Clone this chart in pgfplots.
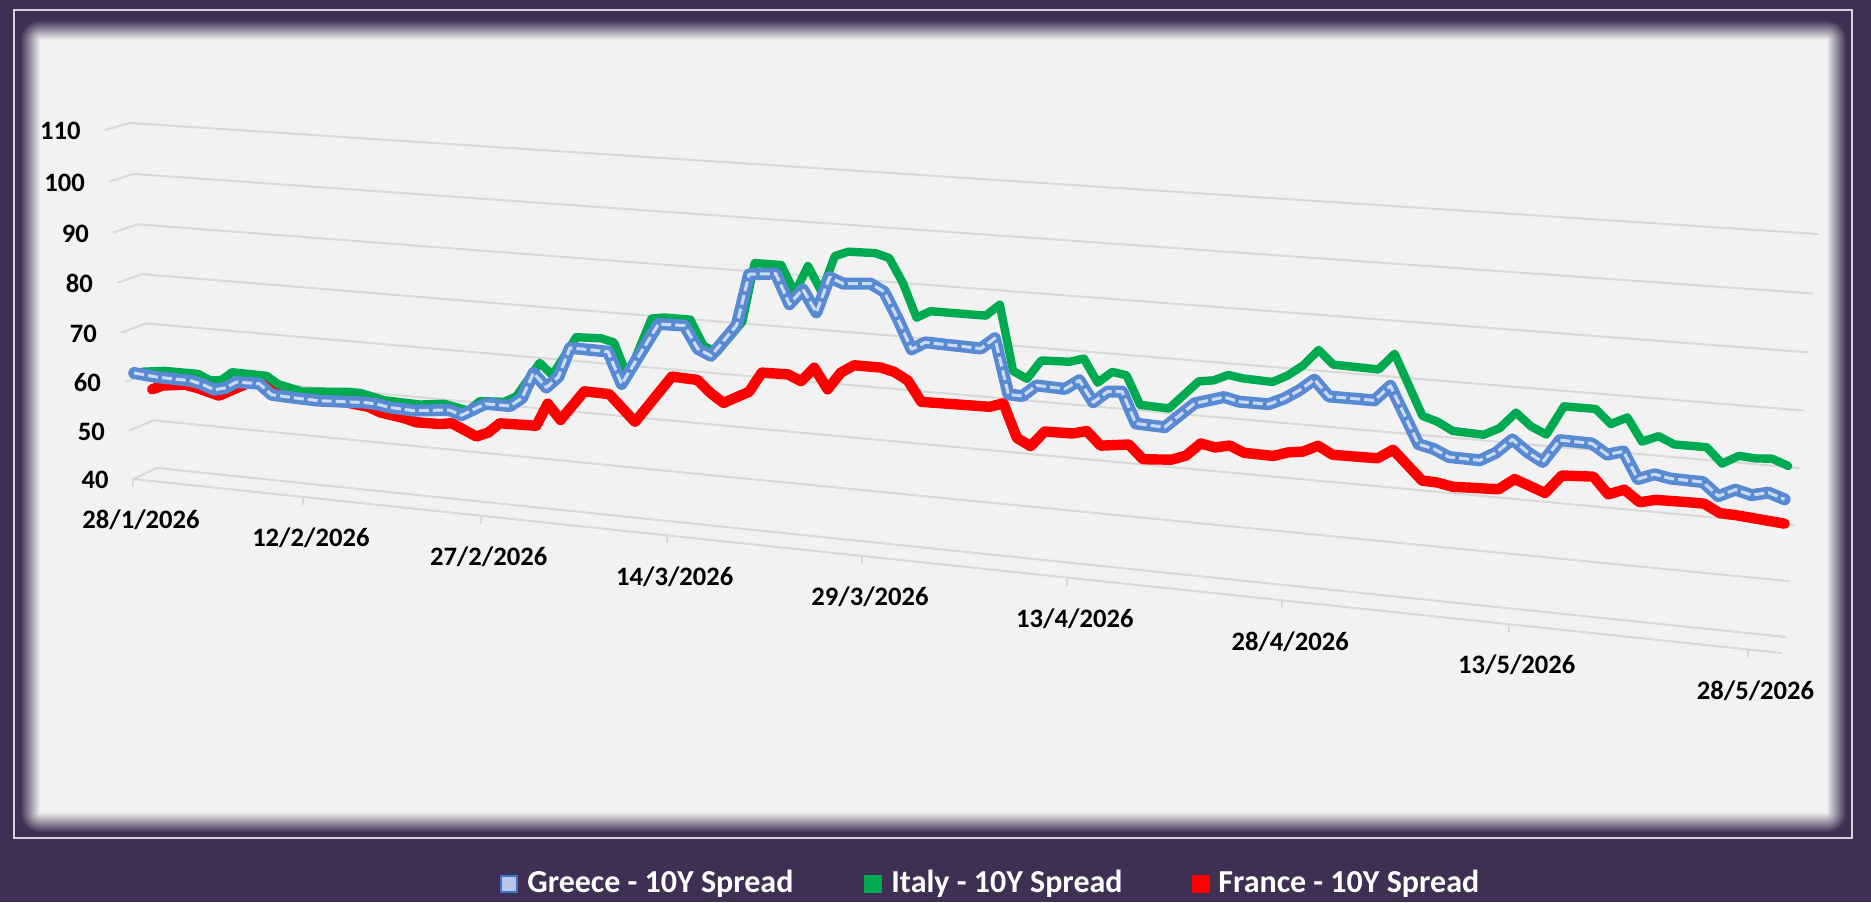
\documentclass[border=0pt]{standalone}
\usepackage{pgfplots}
\usepackage{pgfplotstable}
\pgfplotsset{compat=1.18}
\usepackage{fontspec}
\setmainfont{Carlito}

\definecolor{bgpurple}{RGB}{63,47,82}
\definecolor{panelgray}{RGB}{242,242,242}
\definecolor{framecol}{RGB}{215,210,222}
\definecolor{gridcol}{RGB}{217,217,217}
\definecolor{grblue}{RGB}{88,138,212}
\definecolor{grlight}{RGB}{205,218,240}
\definecolor{itgreen}{RGB}{0,170,80}
\definecolor{frred}{RGB}{255,0,0}
\definecolor{legblue}{RGB}{180,199,231}
\definecolor{legborder}{RGB}{68,114,196}

% d = days since 28/1/2026, v = spread (bp)
\pgfplotstableread{
d v
0 61.6
2 61.2
5 61.1
6 60.6
7 59.7
8 60.3
9 61.7
11 61.8
12 59.8
14 59.6
16 59.5
20 60.0
21 59.9
22 59.5
24 59.3
27 60.1
28 59.3
30 62.0
32 62.0
33 63.8
34 68.9
35 66.3
36 68.6
37 74.4
40 74.3
41 68.3
44 80.4
46 80.5
47 76.3
48 75.2
50 81.4
51 91.1
53 91.6
54 86.1
55 89.1
56 85.0
57 91.7
58 90.7
60 91.1
61 89.8
62 85.0
63 79.6
64 81.1
68 80.8
69 82.9
70 72.8
71 72.7
72 74.9
74 74.7
75 76.5
76 72.7
77 74.9
78 75.1
79 69.5
81 69.3
83 74.1
85 75.7
86 75.1
88 75.1
89 76.3
90 78.0
91 80.2
92 77.4
95 77.4
96 80.2
98 70.3
99 69.7
100 68.5
102 68.4
103 70.0
104 72.6
105 70.6
106 69.1
107 73.2
109 73.1
110 71.4
111 72.2
112 67.6
113 68.7
114 68.2
116 68.1
117 65.9
118 67.3
119 66.6
120 67.3
121 66.4
}\greece

\pgfplotstableread{
d v
0 61.2
2 61.8
5 61.8
6 60.7
7 61.0
8 62.8
11 62.7
12 61.2
14 60.2
18 61.0
19 61.0
21 60.0
24 59.8
26 60.4
28 59.5
29 61.6
31 61.9
32 63.2
34 70.2
35 68.0
37 75.8
39 76.0
40 75.4
41 69.0
43 80.6
44 81.0
46 81.0
47 76.2
48 75.2
50 81.4
51 92.6
53 92.6
54 87.6
55 92.8
56 88.2
57 95.0
58 96.0
60 96.1
61 95.4
62 91.0
63 84.8
64 86.2
68 86.2
69 88.4
70 76.4
71 75.2
72 78.8
74 79.0
75 79.8
76 75.6
77 77.8
78 77.4
79 72.2
81 72.0
83 77.4
84 77.8
85 79.0
86 78.6
88 78.4
89 79.8
90 81.8
91 84.8
92 82.4
95 82.2
96 85.2
98 74.6
99 73.8
100 72.4
102 72.2
103 73.6
104 76.6
105 74.4
106 73.2
107 78.4
109 78.4
110 76.0
111 77.4
112 73.4
113 74.6
114 73.4
116 73.4
117 70.8
118 72.4
119 72.2
120 72.4
121 71.4
}\italy

\pgfplotstableread{
d v
0 56.9
1 57.9
3 58.5
4 58.1
6 56.9
8 59.3
9 60.4
10 60.4
12 59.2
14 57.8
17 58.0
19 57.5
20 56.6
22 55.9
23 55.3
25 55.4
26 55.8
28 53.6
29 54.6
30 56.7
33 56.9
34 61.5
35 58.5
37 64.6
39 64.5
41 59.5
44 69.0
46 68.8
47 66.5
48 64.8
50 67.4
51 71.3
53 71.4
54 70.3
55 73.1
56 69.2
57 72.6
58 74.2
60 74.2
61 73.6
62 72.2
63 68.4
68 68.6
69 69.5
70 63.2
71 61.9
72 64.9
74 65.0
75 65.7
76 63.2
78 63.9
79 61.4
81 61.8
82 62.8
83 65.3
84 64.8
85 65.4
86 64.3
88 64.2
89 65.1
90 65.5
91 66.8
92 65.4
95 65.5
96 67.3
98 62.2
99 62.1
100 61.6
103 61.9
104 64.0
106 62.0
107 65.4
109 65.7
110 62.8
111 63.9
112 61.9
113 62.6
115 62.7
116 62.7
117 61.3
118 61.2
121 60.5
}\france

\begin{document}
\begin{tikzpicture}[
  declare function={
    sf(\Dq)=0.0068602*\Dq/(1-0.0014736*\Dq);
    tf(\Vq)=0.9623*((\Vq-40)/70)/(1-0.0377*((\Vq-40)/70));
    px(\Dq,\Vq,\Fq)=(1-sf(\Dq))*(1-tf(\Vq))*(157-24*\Fq)
                   +sf(\Dq)*(1-tf(\Vq))*(1751.9-4.5*\Fq)
                   +(1-sf(\Dq))*tf(\Vq)*(130-25*\Fq)
                   +sf(\Dq)*tf(\Vq)*(1782.6-4*\Fq);
    py(\Dq,\Vq,\Fq)=902-((1-sf(\Dq))*(1-tf(\Vq))*(468+11*\Fq)
                   +sf(\Dq)*(1-tf(\Vq))*(633.5+15.9*\Fq)
                   +(1-sf(\Dq))*tf(\Vq)*(123+7*\Fq)
                   +sf(\Dq)*tf(\Vq)*(231.7+10*\Fq));
  }]
\useasboundingbox (0,0) rectangle (935.5pt,451pt);
\fill[bgpurple] (0,0) rectangle (935.5pt,451pt);
\draw[framecol, line width=0.8pt] (7pt,32pt) rectangle (926pt,446pt);
\foreach \k in {0,...,20}{
  \pgfmathsetmacro\e{(20-\k)*0.5}
  \pgfmathtruncatemacro\m{\k*5}
  \pgfmathsetmacro\xa{20-\e}
  \pgfmathsetmacro\ya{44.5-\e}
  \pgfmathsetmacro\xb{913.5+\e}
  \pgfmathsetmacro\yb{431+\e}
  \fill[panelgray!\m!bgpurple, rounded corners=\e pt]
    (\xa pt,\ya pt) rectangle (\xb pt,\yb pt);
}
\begin{axis}[
  at={(0pt,0pt)}, anchor=south west,
  scale only axis, width=935.5pt, height=451pt,
  xmin=0, xmax=1871, ymin=0, ymax=902,
  hide axis, clip=false,
]
% gridlines (back wall + side wall)
\pgfplotsinvokeforeach{40,50,...,110}{
  \addplot[gridcol, line width=1pt, line join=round] table[row sep=\\,
     x expr={px(\thisrow{D},#1,\thisrow{f})},
     y expr={py(\thisrow{D},#1,\thisrow{f})}]
     {D f\\ 0 1\\ 0 0\\ 122.1 0\\};
}
% front floor edge
\addplot[gridcol, line width=1pt] table[row sep=\\,
   x expr={px(\thisrow{D},40,1)}, y expr={py(\thisrow{D},40,1)}]
   {D\\ 0\\ 122.1\\};
% date ticks
\pgfplotsinvokeforeach{0,15,...,120}{
  \addplot[gridcol, line width=1pt] table[row sep=\\,
     x expr={px(#1,40,1)}, y expr={py(#1,40,1)-\thisrow{o}}]
     {o\\ 0\\ 8\\};
}
% date labels
\addplot[draw=none, mark=none, nodes near coords, point meta=explicit symbolic,
  every node near coord/.append style={anchor=center, inner sep=0pt,
     xshift=4pt, yshift=-20.5pt, text=black,
     font=\bfseries\fontsize{13.3}{13.3}\selectfont}]
  table[row sep=\\, meta=lab,
   x expr={px(\thisrow{D},40,1)}, y expr={py(\thisrow{D},40,1)}]
  {D lab\\ 0 28/1/2026\\ 15 12/2/2026\\ 30 27/2/2026\\ 45 14/3/2026\\
   60 29/3/2026\\ 75 13/4/2026\\ 90 28/4/2026\\ 105 13/5/2026\\ 120 28/5/2026\\};
% value labels
\addplot[draw=none, mark=none, nodes near coords, point meta=explicit symbolic,
  every node near coord/.append style={anchor=east, inner sep=0pt,
     xshift=-12pt, yshift=-0.5pt, text=black,
     font=\bfseries\fontsize{13.3}{13.3}\selectfont}]
  table[row sep=\\, meta=lab,
   x expr={px(0,\thisrow{V},1)}, y expr={py(0,\thisrow{V},1)}]
  {V lab\\ 40 40\\ 50 50\\ 60 60\\ 70 70\\ 80 80\\ 90 90\\ 100 100\\ 110 110\\};
% series (back to front)
\addplot[frred, line width=5.2pt, line join=round, line cap=round] table[
   x expr={px(\thisrow{d}+0.5,\thisrow{v},0.1667)},
   y expr={py(\thisrow{d}+0.5,\thisrow{v},0.1667)}] {\france};
\addplot[itgreen, line width=4.2pt, line join=round, line cap=round] table[
   x expr={px(\thisrow{d}+0.5,\thisrow{v},0.5)},
   y expr={py(\thisrow{d}+0.5,\thisrow{v},0.5)}] {\italy};
\addplot[grblue, line width=6pt, line join=round, line cap=round] table[
   x expr={px(\thisrow{d}+0.5,\thisrow{v},0.8333)},
   y expr={py(\thisrow{d}+0.5,\thisrow{v},0.8333)}] {\greece};
\addplot[grlight, line width=1.5pt, line join=round, dash pattern=on 5pt off 2pt] table[
   x expr={px(\thisrow{d}+0.5,\thisrow{v},0.8333)},
   y expr={py(\thisrow{d}+0.5,\thisrow{v},0.8333)}] {\greece};
\end{axis}
% legend
\filldraw[fill=legblue, draw=legborder, line width=1pt] (250.5pt,5pt) rectangle (258.5pt,13pt);
\node[anchor=west, inner sep=0pt, text=white, font=\bfseries\fontsize{16}{16}\selectfont] at (263.5pt,9pt) {Greece - 10Y Spread};
\fill[itgreen] (432pt,4.5pt) rectangle (441pt,13.5pt);
\node[anchor=west, inner sep=0pt, text=white, font=\bfseries\fontsize{16}{16}\selectfont] at (445.5pt,9pt) {Italy - 10Y Spread};
\fill[frred] (596pt,4.5pt) rectangle (605pt,13.5pt);
\node[anchor=west, inner sep=0pt, text=white, font=\bfseries\fontsize{16}{16}\selectfont] at (609pt,9pt) {France - 10Y Spread};
\end{tikzpicture}
\end{document}
